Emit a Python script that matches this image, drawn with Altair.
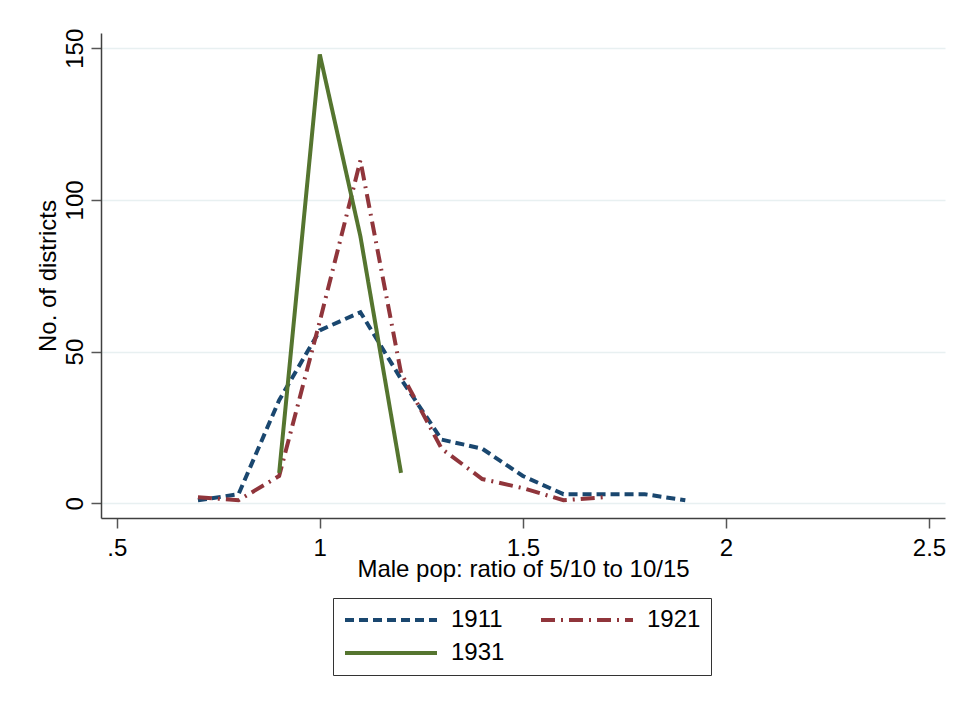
import altair as alt
import pandas as pd

# ---- data ----
x_1911 = [0.7, 0.8, 0.9, 1.0, 1.1, 1.2, 1.3, 1.4, 1.5, 1.6, 1.7, 1.8, 1.9]
y_1911 = [1, 3, 34, 57, 63, 41, 21, 18, 9, 3, 3, 3, 1]

x_1921 = [0.7, 0.8, 0.9, 1.0, 1.1, 1.2, 1.3, 1.4, 1.5, 1.6, 1.7]
y_1921 = [2, 1, 9, 60, 113, 43, 18, 8, 5, 1, 2]

x_1931 = [0.9, 1.0, 1.1, 1.2]
y_1931 = [10, 148, 88, 10]

years = ["1911", "1921", "1931"]
colors = ["#1a476f", "#90353b", "#55752f"]
dashes = [[9, 5], [14, 6, 2, 6], [1, 0]]

x_ticks = [0.5, 1.0, 1.5, 2.0, 2.5]
y_ticks = [0, 50, 100, 150]

rows = []
for yr, xs, ys in (("1911", x_1911, y_1911), ("1921", x_1921, y_1921), ("1931", x_1931, y_1931)):
    for i, (a, b) in enumerate(zip(xs, ys)):
        rows.append({"year": yr, "ratio": a, "count": b, "order": i})
df = pd.DataFrame(rows)

FONT = "Liberation Sans"

chart = alt.Chart(df).mark_line(strokeWidth=4, strokeCap="butt", strokeJoin="miter").encode(
    x=alt.X(
        "ratio:Q",
        scale=alt.Scale(domain=[0.4613, 2.5394], nice=False, zero=False),
        axis=alt.Axis(
            values=x_ticks,
            labelExpr="datum.value == 0.5 ? '.5' : format(datum.value, '~g')",
            grid=False,
            title="Male pop: ratio of 5/10 to 10/15",
            titleFont=FONT,
            titleFontSize=24,
            titleFontWeight="normal",
            titleColor="#000000",
            titleBaseline="alphabetic",
            titleY=58,
            labelFont=FONT,
            labelFontSize=24,
            labelColor="#000000",
            labelBaseline="top",
            labelPadding=8,
            tickSize=10,
            tickColor="#555555",
            tickWidth=1.5,
            domainColor="#404040",
            domainWidth=1.5,
            labelFlush=False,
        ),
    ),
    y=alt.Y(
        "count:Q",
        scale=alt.Scale(domain=[-4.85, 155.04], nice=False, zero=False),
        axis=alt.Axis(
            values=y_ticks,
            grid=True,
            gridColor="#e8f0f1",
            gridWidth=1.5,
            title="No. of districts",
            titleFont=FONT,
            titleFontSize=24,
            titleFontWeight="normal",
            titleColor="#000000",
            titleAngle=270,
            titleAlign="center",
            titleBaseline="bottom",
            titleX=-41,
            titleY=242.5,
            labelFont=FONT,
            labelFontSize=24,
            labelColor="#000000",
            labelAngle=270,
            labelAlign="center",
            labelBaseline="bottom",
            labelPadding=4,
            tickSize=10,
            tickColor="#555555",
            tickWidth=1.5,
            domainColor="#404040",
            domainWidth=1.5,
            labelFlush=False,
        ),
    ),
    color=alt.Color(
        "year:N",
        scale=alt.Scale(domain=years, range=colors),
        title=None,
        legend=alt.Legend(
            orient="none",
            direction="horizontal",
            legendX=232,
            legendY=565,
            columns=2,
            symbolType="M-1,0H8.2",
            symbolSize=400,
            symbolStrokeWidth=4,
            labelFont=FONT,
            labelFontSize=24,
            labelColor="#000000",
            labelOffset=84,
            columnPadding=28,
            rowPadding=9,
            padding=10,
            strokeColor="#333333",
            fillColor="#ffffff",
        ),
    ),
    strokeDash=alt.StrokeDash(
        "year:N",
        scale=alt.Scale(domain=years, range=dashes),
        title=None,
    ),
    order="order:Q",
).properties(
    width=844,
    height=485,
    autosize=alt.AutoSizeParams(type="none"),
    padding={"left": 101, "top": 33, "right": 18, "bottom": 187},
    background="#ffffff",
).configure_view(
    strokeWidth=0
)

chart.save("out.html", embed_options={"renderer": "svg", "actions": False})
